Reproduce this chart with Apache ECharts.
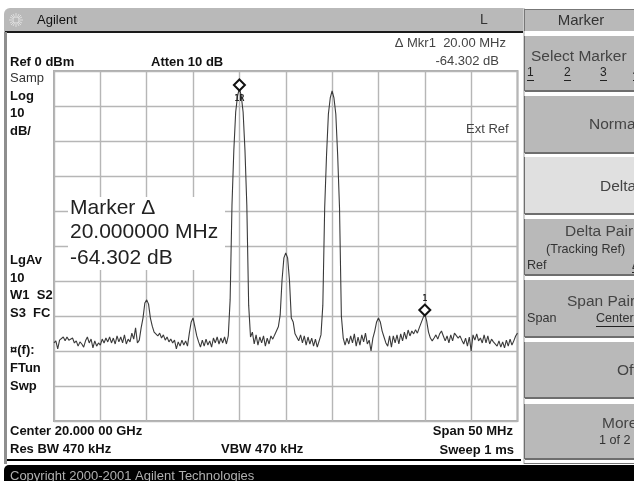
<!DOCTYPE html>
<html>
<head>
<meta charset="utf-8">
<script src="https://cdn.jsdelivr.net/npm/echarts@6/dist/echarts.min.js"></script>
<style>
html,body{margin:0;padding:0;background:#fff;overflow:hidden}
#c{width:634px;height:481px;filter:blur(0.45px)}
</style>
</head>
<body>
<div id="c"></div>
<script>
// Sweep: offset from centre in MHz, 0.2 MHz per sweep point
const spanStartMHz = -25;
const sweepStepMHz = 0.2;
const yTicks = { min: -100, max: 0, step: 10 };
const xTicks = { min: -25, max: 25, step: 5 };

const traceDb = [
-77.7,-77.1,-79.4,-76.9,-77.4,-76.0,-77.1,-76.0,-76.9,-77.4,
-76.3,-77.7,-77.1,-78.6,-77.4,-78.0,-78.9,-77.1,-76.0,-77.7,
-76.6,-79.1,-77.1,-78.6,-77.7,-78.3,-76.6,-77.7,-76.3,-77.4,
-76.0,-77.7,-76.3,-78.0,-75.7,-77.4,-76.0,-77.7,-75.4,-78.0,
-76.6,-77.4,-74.9,-76.6,-73.4,-77.7,-76.9,-73.4,-70.6,-66.3,
-65.4,-66.6,-70.6,-72.9,-74.6,-74.3,-75.7,-74.9,-76.3,-75.4,
-76.9,-76.0,-77.4,-76.6,-77.7,-76.9,-79.4,-77.4,-78.6,-76.9,
-78.3,-77.1,-78.6,-74.9,-71.7,-70.6,-73.1,-75.7,-77.4,-78.9,
-76.9,-78.6,-76.6,-78.3,-77.1,-78.9,-76.3,-77.7,-76.0,-78.0,
-76.3,-77.7,-76.0,-78.0,-75.7,-65.4,-38.3,-22.6,-11.7,-7.1,
-4.9,-7.1,-11.7,-22.6,-38.3,-66.9,-76.0,-74.6,-78.0,-75.4,
-78.3,-76.0,-77.7,-75.7,-78.6,-76.3,-78.0,-75.7,-76.6,-75.4,
-74.9,-73.1,-69.7,-59.7,-53.4,-52.0,-53.4,-59.7,-70.6,-71.7,
-75.1,-74.6,-77.1,-75.4,-77.7,-75.7,-78.3,-76.0,-78.0,-76.3,
-78.6,-76.6,-78.9,-78.6,-75.4,-66.9,-39.1,-24.0,-12.3,-7.7,
-5.7,-7.7,-12.3,-24.0,-39.1,-70.0,-76.3,-78.3,-76.3,-78.0,
-75.7,-77.7,-75.1,-78.6,-76.0,-78.3,-75.4,-77.4,-74.9,-78.0,
-76.9,-80.0,-76.3,-74.3,-71.7,-70.6,-71.7,-74.3,-76.0,-77.7,
-78.6,-75.7,-78.9,-75.7,-77.7,-75.4,-78.0,-75.1,-77.1,-74.6,
-76.6,-74.0,-75.7,-74.3,-75.1,-73.9,-74.9,-73.4,-72.9,-70.6,
-69.4,-71.4,-74.6,-76.3,-77.1,-76.3,-75.4,-76.6,-75.1,-74.3,
-75.7,-77.1,-75.7,-77.7,-75.4,-77.1,-74.9,-75.4,-76.3,-75.7,
-76.9,-78.0,-76.3,-78.6,-76.0,-80.0,-75.4,-76.9,-75.1,-77.1,
-76.3,-77.7,-75.4,-77.7,-75.7,-78.0,-76.6,-77.4,-76.9,-78.6,
-77.1,-78.9,-77.4,-79.1,-76.9,-78.6,-76.6,-78.3,-77.1,-75.7,
-74.9
];
const markerMHz = [-5, 15];
const markerDb = [-4.0, -68.3];
const markerTags = ['1R', '1'];

const sweepPoints = traceDb.map((db, i) => [spanStartMHz + i * sweepStepMHz, db]);

// ---- page furniture (instrument screen) ----
const SANS = '"Liberation Sans", Arial, sans-serif';
const G = [];
function box(x, y, w, h, fill, z) { G.push({ type: 'rect', z: z || 0, shape: { x, y, width: w, height: h }, style: { fill } }); }
function txt(s, x, y, size, opts) {
  opts = opts || {};
  G.push({ type: 'text', z: 5, x, y, style: {
    text: s, fill: opts.fill || '#2a2a2a',
    font: (opts.bold ? 'bold ' : '') + size + 'px ' + SANS,
    textAlign: opts.align || 'left', textVerticalAlign: 'middle'
  }});
}
function lbl(s, x, y) { txt(s, x, y, 13, { bold: true, fill: '#111' }); }

// window chrome
G.push({ type: 'rect', z: 0, shape: { x: 4, y: 8, width: 519, height: 24, r: [6, 0, 0, 0] }, style: { fill: '#b9b9b9' } });
box(5, 31, 518, 2, '#1a1a1a');
box(4, 32, 3, 432, '#8e8e8e');
box(7, 459, 514, 2, '#000');
box(523, 8, 2, 456, '#cfcfcf');
G.push({ type: 'rect', z: 0, shape: { x: 4, y: 465, width: 630, height: 16, r: [5, 0, 0, 0] }, style: { fill: '#000' } });
box(524, 463, 110, 1, '#777');

// softkey tab and buttons
box(524, 9, 110, 22, '#b9b9b9');
box(524, 9, 110, 1, '#777');
box(524, 9, 1, 22, '#777');
const keys = [[36, 91, '#b9b9b9'], [96, 153, '#b9b9b9'], [157, 214, '#e0e0e0'], [219, 275, '#b9b9b9'],
              [280, 337, '#b9b9b9'], [342, 398, '#b9b9b9'], [404, 459, '#b9b9b9']];
keys.forEach(k => {
  box(525, k[0], 109, k[1] - k[0], k[2]);
  box(525, k[1] - 1, 109, 2, '#6e6e6e');
  box(524, k[0], 1, k[1] - k[0], '#6e6e6e');
});

// Agilent spark logo
[[0,-7,0,-2],[0,2,0,7],[-7,0,-2,0],[2,0,7,0],[-5,-5,-2,-2],[2,2,5,5],[-5,5,-2,2],[2,-2,5,-5],
 [-3,-6,-1,-2],[1,2,3,6],[-3,6,-1,2],[1,-2,3,-6],[-6,-3,-2,-1],[2,1,6,3],[-6,3,-2,1],[2,-1,6,-3]].forEach(s => {
  G.push({ type: 'line', z: 1, shape: { x1: 16 + s[0], y1: 20 + s[1], x2: 16 + s[2], y2: 20 + s[3] }, style: { stroke: '#eeeeee', lineWidth: 0.7 } });
});

txt('Agilent', 37, 20, 13, { fill: '#111' });
txt('L', 484, 20, 14, { fill: '#333', align: 'center' });
txt('Marker', 581, 21, 15, { fill: '#333', align: 'center' });

txt('\u0394 Mkr1  20.00 MHz', 506, 43, 13, { fill: '#444', align: 'right' });
txt('-64.302 dB', 499, 61, 13, { fill: '#444', align: 'right' });
lbl('Ref 0 dBm', 10, 62);
lbl('Atten 10 dB', 151, 62);
txt('Samp', 10, 78, 13, { fill: '#333' });
lbl('Log', 10, 96); lbl('10', 10, 113); lbl('dB/', 10, 131);
txt('Ext Ref', 466, 129, 13, { fill: '#444' });
lbl('LgAv', 10, 260); lbl('10', 10, 278); lbl('W1  S2', 10, 295); lbl('S3  FC', 10, 313);
lbl('\u00A4(f):', 10, 350); lbl('FTun', 10, 368); lbl('Swp', 10, 386);
lbl('Center 20.000 00 GHz', 10, 431);
lbl('Res BW 470 kHz', 10, 449);
lbl('VBW 470 kHz', 221, 449);
txt('Span 50 MHz', 513, 431, 13, { bold: true, fill: '#111', align: 'right' });
txt('Sweep 1 ms', 514, 450, 13, { bold: true, fill: '#111', align: 'right' });
txt('Copyright 2000-2001 Agilent Technologies', 10, 476, 13, { fill: '#b0b0b0' });

// annotation block
box(68, 197, 157, 73, '#fff', 1);
txt('Marker \u0394', 70, 208, 21, { fill: '#222' });
txt('20.000000 MHz', 70, 232, 21, { fill: '#222' });
txt('-64.302 dB', 70, 258, 21, { fill: '#222' });

// softkey labels
txt('Select Marker', 531, 57, 15.5, { fill: '#444' });
[['1', 527], ['2', 564], ['3', 600], ['4', 633]].forEach(a => {
  txt(a[0], a[1], 73, 12, { fill: '#222' });
  box(a[1], 80, 7, 1, '#222', 6);
});
txt('Normal', 589, 125, 15.5, { fill: '#444' });
txt('Delta', 600, 187, 15.5, { fill: '#444' });
txt('Delta Pair', 565, 232, 15.5, { fill: '#444' });
txt('(Tracking Ref)', 546, 250, 12.6, { fill: '#333' });
txt('Ref', 527, 266, 12.6, { fill: '#333' });
txt('\u0394', 632, 266, 12, { fill: '#333' });
box(632, 272, 2, 1, '#222', 6);
txt('Span Pair', 567, 302, 15.5, { fill: '#444' });
txt('Span', 527, 319, 12.6, { fill: '#333' });
txt('Center', 596, 319, 12.6, { fill: '#333' });
box(596, 326, 38, 1, '#222', 6);
txt('Off', 617, 371, 15.5, { fill: '#444' });
txt('More', 602, 424, 15.5, { fill: '#444' });
txt('1 of 2', 599, 441, 12.6, { fill: '#333' });

const chart = echarts.init(document.getElementById('c'), null, { renderer: 'canvas' });
chart.setOption({
  animation: false,
  backgroundColor: '#fff',
  grid: { left: 54, top: 71, width: 463.5, height: 350, show: true, backgroundColor: '#fff', borderColor: '#aeaeae', borderWidth: 2 },
  xAxis: {
    type: 'value', min: xTicks.min, max: xTicks.max, interval: xTicks.step,
    axisLine: { show: false }, axisTick: { show: false }, axisLabel: { show: false },
    splitLine: { show: true, lineStyle: { color: '#b6b6b6', width: 1.4 } }
  },
  yAxis: {
    type: 'value', min: yTicks.min, max: yTicks.max, interval: yTicks.step,
    axisLine: { show: false }, axisTick: { show: false }, axisLabel: { show: false },
    splitLine: { show: true, lineStyle: { color: '#b6b6b6', width: 1.4 } }
  },
  graphic: { elements: G },
  series: [
    {
      type: 'line', data: sweepPoints, showSymbol: false, smooth: false, z: 3, silent: true,
      lineStyle: { color: '#3a3a3a', width: 1.1 }
    },
    {
      type: 'scatter', z: 4, silent: true,
      data: markerMHz.map((m, i) => ({
        value: [m, markerDb[i]],
        name: markerTags[i],
        label: { position: i === 0 ? 'bottom' : 'top', distance: i === 0 ? 3 : 1 }
      })),
      symbol: 'diamond', symbolSize: 11,
      itemStyle: { color: '#fff', borderColor: '#111', borderWidth: 2, opacity: 1 },
      label: { show: true, formatter: p => p.name, color: '#222', fontSize: 8, fontWeight: 'bold', fontFamily: '"DejaVu Sans Mono", monospace' }
    }
  ]
});
</script>
</body>
</html>
